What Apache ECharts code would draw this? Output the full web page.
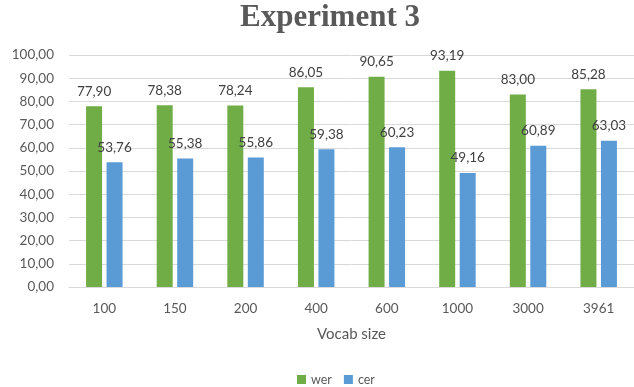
<!DOCTYPE html>
<html>
<head>
<meta charset="utf-8">
<script src="https://cdn.jsdelivr.net/npm/echarts@6/dist/echarts.min.js"></script>
<style>
  html, body { margin: 0; padding: 0; background: #fff; }
  #chart { width: 634px; height: 387px; }
</style>
</head>
<body>
<div id="chart"></div>
<script>
const categories = ['100', '150', '200', '400', '600', '1000', '3000', '3961'];
const werValues = [77.90, 78.38, 78.24, 86.05, 90.65, 93.19, 83.00, 85.28];
const cerValues = [53.76, 55.38, 55.86, 59.38, 60.23, 49.16, 60.89, 63.03];

const fmt = v => v.toFixed(2).replace('.', ',');
const font = 'Lato, "Noto Sans", sans-serif';

const chart = echarts.init(document.getElementById('chart'), null, {renderer: 'canvas'});

const option = {
    animation: false,
    textStyle: {fontFamily: font},
    graphic: [
        {
            // title sits a little right of centre in the original
            type: 'text',
            x: 330,
            y: 18,
            style: {
                text: 'Experiment 3',
                font: 'bold 31px "Liberation Serif", "DejaVu Serif", serif',
                fill: '#595959',
                align: 'center',
                verticalAlign: 'middle'
            }
        }
    ],
    legend: {
        top: 368,
        left: 292,
        itemWidth: 9,
        itemHeight: 9,
        itemGap: 12,
        icon: 'rect',
        textStyle: {fontSize: 12.5, color: '#595959', fontFamily: font},
        data: ['wer', 'cer']
    },
    grid: {
        left: 69,
        right: -9,
        top: 55,
        bottom: 100
    },
    xAxis: {
        type: 'category',
        data: categories,
        name: 'Vocab size',
        nameLocation: 'middle',
        nameGap: 40,
        nameTextStyle: {fontSize: 15, color: '#595959', fontFamily: font},
        axisLine: {lineStyle: {color: '#d9d9d9'}},
        axisTick: {show: false},
        axisLabel: {fontSize: 13.5, color: '#595959', margin: 15, fontFamily: font}
    },
    yAxis: {
        type: 'value',
        min: 0,
        max: 100,
        interval: 10,
        axisLine: {show: false},
        axisTick: {show: false},
        splitLine: {lineStyle: {color: '#d9d9d9'}},
        axisLabel: {
            fontSize: 13.5,
            color: '#595959',
            margin: 15,
            fontFamily: font,
            formatter: v => fmt(v)
        }
    },
    series: [
        {
            name: 'wer',
            type: 'bar',
            data: werValues,
            barWidth: 16,
            barGap: '28%',
            itemStyle: {color: '#70ad47'},
            label: {
                show: true,
                position: 'top',
                distance: 8,
                fontSize: 13.5,
                color: '#404040',
                fontFamily: font,
                formatter: p => fmt(p.value)
            }
        },
        {
            name: 'cer',
            type: 'bar',
            data: cerValues,
            barWidth: 16,
            itemStyle: {color: '#5b9bd5'},
            label: {
                show: true,
                position: 'top',
                distance: 8,
                fontSize: 13.5,
                color: '#404040',
                fontFamily: font,
                formatter: p => fmt(p.value)
            }
        }
    ]
};

chart.setOption(option);
</script>
</body>
</html>
